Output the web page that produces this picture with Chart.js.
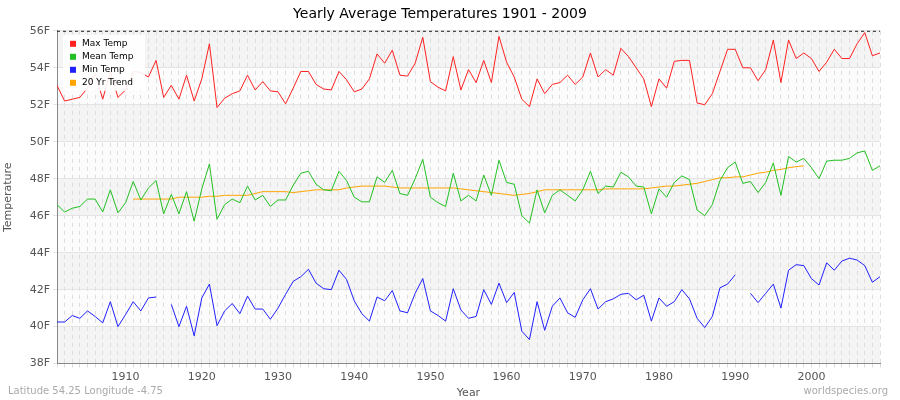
<!DOCTYPE html>
<html>
<head>
<meta charset="utf-8">
<script src="https://cdn.jsdelivr.net/npm/chart.js@4"></script>
<style>
  body { margin: 0; background: #fff; font-family: "DejaVu Sans", sans-serif; }
  #wrap { position: relative; width: 900px; height: 400px; }
  .foot { position: absolute; bottom: 4px; font-size: 10px; color: #aaa; }
</style>
</head>
<body>
<div id="wrap">
  <canvas id="c" width="900" height="400"></canvas>
  <div class="foot" style="left:8px">Latitude 54.25 Longitude -4.75</div>
  <div class="foot" style="right:12px">worldspecies.org</div>
</div>
<script>
const startYear = 1901;
const maxTemp = [53.05,52.2,52.3,52.4,52.9,53.7,52.3,53.8,52.4,52.8,53.8,53.75,53.5,54.4,52.4,53.05,52.3,53.6,52.2,53.4,
  55.3,51.85,52.35,52.6,52.75,53.6,52.8,53.25,52.75,52.7,52.05,52.9,53.8,53.8,53.1,52.85,52.8,53.8,53.35,52.7,
  52.85,53.4,54.75,54.25,54.95,53.6,53.55,54.25,55.65,53.25,52.95,52.75,54.6,52.8,53.9,53.2,54.4,53.2,55.7,54.3,
  53.5,52.3,51.9,53.4,52.6,53.1,53.2,53.6,53.1,53.5,54.8,53.5,53.9,53.6,55.05,54.6,54.0,53.4,51.9,53.4,
  52.9,54.35,54.4,54.4,52.1,52.0,52.6,53.8,55.0,55.0,54.0,54.0,53.3,53.9,55.5,53.2,55.5,54.5,54.8,54.5,
  53.8,54.3,55.0,54.5,54.5,55.3,55.9,54.65,54.8];
const meanTemp = [46.6,46.2,46.4,46.5,46.9,46.9,46.2,47.4,46.15,46.7,47.85,46.85,47.5,47.9,46.1,47.15,46.1,47.3,45.7,47.45,
  48.8,45.8,46.6,46.9,46.7,47.6,46.85,47.1,46.5,46.85,46.85,47.65,48.3,48.4,47.7,47.4,47.35,48.4,47.9,47.0,
  46.75,46.75,48.1,47.8,48.45,47.2,47.1,48.0,49.05,47.0,46.7,46.5,48.3,46.8,47.1,46.8,48.2,47.1,49.0,47.8,
  47.7,46.0,45.6,47.4,46.15,47.1,47.4,47.1,46.8,47.4,48.4,47.2,47.6,47.55,48.35,48.1,47.6,47.55,46.1,47.45,
  47.0,47.8,48.15,47.95,46.3,46.0,46.6,47.9,48.6,48.9,47.75,47.85,47.25,47.8,48.85,47.1,49.2,48.9,49.1,48.6,
  48.0,48.95,49.0,49.0,49.1,49.4,49.5,48.45,48.7];
const minTemp = [40.25,40.25,40.6,40.45,40.85,40.55,40.2,41.35,40.0,40.65,41.35,40.85,41.55,41.6,null,41.2,40.0,41.1,39.5,41.55,
  42.3,40.05,40.85,41.25,40.7,41.65,40.95,40.95,40.4,41.0,41.75,42.45,42.7,43.1,42.35,42.05,42.0,43.05,42.55,41.4,
  40.7,40.3,41.6,41.4,41.95,40.85,40.75,41.8,42.6,40.85,40.6,40.3,42.05,40.9,40.45,40.55,42.0,41.2,42.35,41.3,
  41.85,39.75,39.3,41.35,39.8,41.1,41.55,40.75,40.5,41.45,42.05,40.95,41.35,41.5,41.75,41.8,41.45,41.7,40.3,41.55,
  41.1,41.35,42.0,41.5,40.45,39.95,40.55,42.1,42.3,42.8,null,41.8,41.3,41.8,42.3,41.0,43.05,43.35,43.3,42.6,
  42.25,43.45,43.05,43.55,43.7,43.6,43.3,42.4,42.7];
// 20 year trend, 1911-1999
const trendStart = 1911;
const trend = [46.9,46.9,46.9,46.9,46.9,46.9,47.0,47.0,47.0,47.0,47.05,47.05,47.1,47.1,47.1,47.1,47.2,47.3,47.3,47.3,
  47.3,47.25,47.3,47.35,47.4,47.4,47.4,47.4,47.5,47.55,47.6,47.6,47.6,47.6,47.55,47.5,47.5,47.5,47.5,47.5,
  47.5,47.5,47.5,47.45,47.4,47.35,47.3,47.25,47.2,47.15,47.1,47.15,47.2,47.3,47.4,47.4,47.4,47.4,47.4,47.4,
  47.4,47.4,47.45,47.45,47.45,47.45,47.45,47.45,47.5,47.55,47.6,47.6,47.65,47.7,47.75,47.85,47.95,48.05,48.05,48.1,
  48.1,48.2,48.3,48.35,48.45,48.5,48.6,48.65,48.7];
const yTicks = [38, 40, 42, 44, 46, 48, 50, 52, 54, 56];

const pts = (arr, y0) => arr.map((v, i) => ({ x: y0 + i, y: v }));

const bands = {
  id: "bands",
  beforeDraw(chart) {
    const { ctx, chartArea: a, scales: { y } } = chart;
    ctx.save();
    for (let v = 38; v < 56; v += 2) {
      const t = y.getPixelForValue(v + 2), b = y.getPixelForValue(v);
      ctx.fillStyle = ((v - 38) / 2) % 2 === 0 ? "#f4f4f4" : "#fcfcfc";
      ctx.fillRect(a.left, t, a.right - a.left, b - t);
    }
    ctx.restore();
  },
  afterDraw(chart) {
    const { ctx, chartArea: a } = chart;
    ctx.save();
    ctx.strokeStyle = "#222";
    ctx.setLineDash([3, 3]);
    ctx.beginPath(); ctx.moveTo(a.left, a.top + 0.5); ctx.lineTo(a.right, a.top + 0.5); ctx.stroke();
    ctx.setLineDash([]);
    // legend
    const x0 = a.left + 6, y0 = a.top + 4;
    ctx.fillStyle = "rgba(255,255,255,0.9)";
    ctx.fillRect(x0, y0, 82, 56);
    ctx.font = "9px 'DejaVu Sans'";
    ctx.textBaseline = "middle";
    chart.data.datasets.forEach((ds, i) => {
      const yy = y0 + 9 + i * 13;
      ctx.fillStyle = ds.borderColor;
      ctx.fillRect(x0 + 7, yy - 3, 6, 6);
      ctx.fillStyle = "#000";
      ctx.fillText(ds.label, x0 + 19, yy);
    });
    ctx.restore();
  }
};

const line = (label, data, color) => ({
  label, data, borderColor: color, backgroundColor: color,
  borderWidth: 1, pointRadius: 0, tension: 0, spanGaps: false
});

new Chart(document.getElementById("c"), {
  type: "line",
  data: {
    datasets: [
      line("Max Temp", pts(maxTemp, startYear), "#ff2020"),
      line("Mean Temp", pts(meanTemp, startYear), "#22c022"),
      line("Min Temp", pts(minTemp, startYear), "#2020ff"),
      line("20 Yr Trend", pts(trend, trendStart), "#ffa500")
    ]
  },
  options: {
    responsive: false,
    animation: false,
    layout: { padding: { top: 0, right: 20, bottom: 0, left: 0 } },
    plugins: {
      legend: { display: false },
      tooltip: { enabled: false },
      title: {
        display: true, text: "Yearly Average Temperatures 1901 - 2009",
        color: "#000", font: { family: "DejaVu Sans", size: 14, weight: "normal" },
        padding: { top: 6, bottom: 8 }
      }
    },
    scales: {
      x: {
        type: "linear", min: 1901, max: 2009,
        afterBuildTicks(ax) {
          const t = [];
          for (let v = 1901; v <= 2009; v++) t.push({ value: v });
          ax.ticks = t;
        },
        ticks: {
          autoSkip: false, maxRotation: 0, color: "#555",
          font: { family: "DejaVu Sans", size: 11 },
          callback: v => (v % 10 === 0 ? String(v) : "")
        },
        grid: { color: "#dddddd", tickLength: 4 },
        border: { color: "#888", dash: [4, 4] },
        title: { display: true, text: "Year", color: "#555", font: { family: "DejaVu Sans", size: 11 }, padding: 0 }
      },
      y: {
        min: 38, max: 56,
        afterBuildTicks(ax) { ax.ticks = yTicks.map(v => ({ value: v })); },
        afterFit(ax) { ax.width = 57; },
        ticks: { color: "#555", font: { family: "DejaVu Sans", size: 11 }, callback: v => v + "F" },
        grid: { color: "#e4e4e4", tickLength: 4 },
        border: { color: "#888" },
        title: { display: true, text: "Temperature", color: "#555", font: { family: "DejaVu Sans", size: 11 }, padding: 2 }
      }
    }
  },
  plugins: [bands]
});
</script>
</body>
</html>
